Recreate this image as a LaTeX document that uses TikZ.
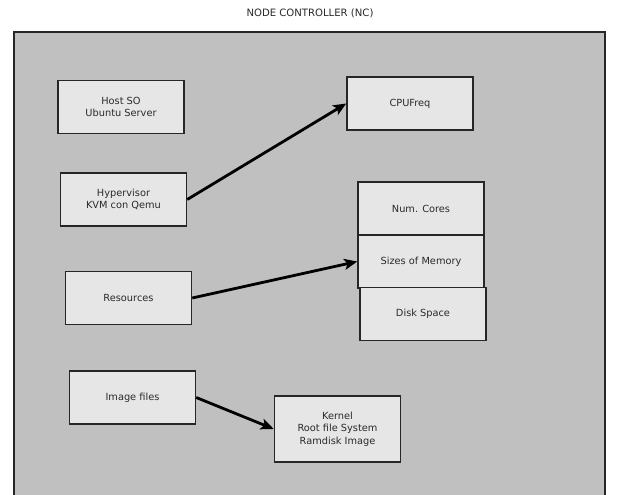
\documentclass[tikz,border=0pt]{standalone}
\usepackage{fontspec}
\setmainfont{DejaVu Sans}
\usetikzlibrary{arrows.meta}
\definecolor{bggray}{HTML}{C0C0C0}
\definecolor{boxgray}{HTML}{E6E6E6}
\definecolor{txt}{HTML}{2A2A2A}
\begin{document}
\begin{tikzpicture}[x=1pt,y=-1pt,
  boxn/.style={draw=black!85, fill=boxgray, line width=1.5pt, minimum width=126pt, minimum height=53pt, inner sep=0pt, align=center, font=\fontsize{9.8}{12.3}\selectfont, text=txt},
  conn/.style={draw=black, line width=2.8pt, -{Stealth[length=13pt,width=11pt,inset=3pt]}}]
\useasboundingbox (0,0) rectangle (619,495);
\fill[white] (0,0) rectangle (619,495);
\node[font=\fontsize{10.1}{12}\selectfont, text=txt] (title) at (310,13) {NODE CONTROLLER (NC)};
\draw[draw=black!85, fill=bggray, line width=1.4pt] (14,32) rectangle (605,500);
\node[boxn] (host) at (121,107) {Host SO\\Ubuntu Server};
\node[boxn] (cpu) at (410,103.5) {CPUFreq};
\node[boxn] (hyp) at (123.5,199.5) {Hypervisor\\KVM con Qemu};
\node[boxn] (cores) at (421,208.5) {Num. Cores};
\node[boxn] (mem) at (421,261.5) {Sizes of Memory};
\node[boxn] (disk) at (423,314) {Disk Space};
\node[boxn] (res) at (128.5,298) {Resources};
\node[boxn] (img) at (132.5,397.5) {Image files};
\node[boxn, minimum height=66pt] (kern) at (337.5,429) {Kernel\\Root file System\\Ramdisk Image};
\draw[conn] (hyp.east) -- (cpu.west);
\draw[conn] (res.east) -- (mem.west);
\draw[conn] (img.east) -- (kern.west);
\end{tikzpicture}
\end{document}
